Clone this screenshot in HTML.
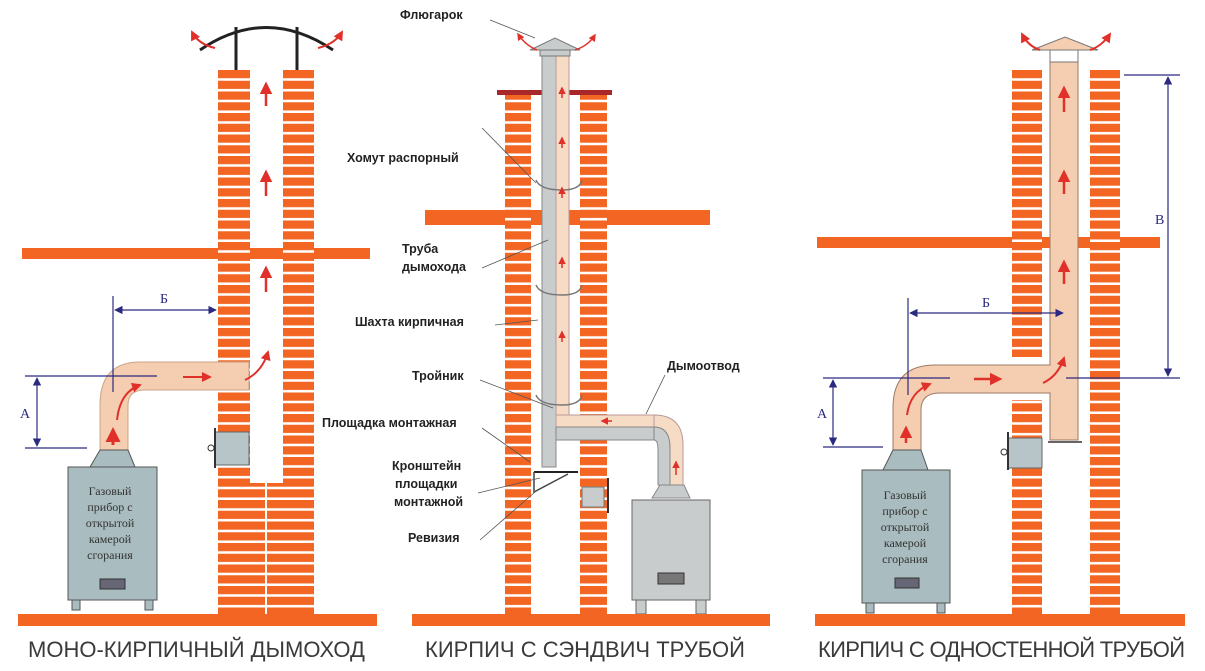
<!DOCTYPE html>
<html><head><meta charset="utf-8"><style>
html,body{margin:0;padding:0;background:#fff;}
svg{display:block}
.lbl{font-family:"Liberation Sans","DejaVu Sans",sans-serif;font-weight:bold;font-size:12.5px;fill:#222}
.ttl{font-family:"Liberation Sans","DejaVu Sans",sans-serif;font-size:22px;fill:#3a3a3a}
.box{font-family:"Liberation Serif","DejaVu Serif",serif;font-size:12px;fill:#333}
.dim{stroke:#2a2a80;stroke-width:1.2;fill:none}
.dl{font-family:"Liberation Serif",serif;font-size:14px;fill:#2a2a80}
</style></head><body>
<svg width="1205" height="671" viewBox="0 0 1205 671" xmlns="http://www.w3.org/2000/svg">
<defs>
<pattern id="br" patternUnits="userSpaceOnUse" x="0" y="70" width="200" height="10.75">
<rect width="200" height="10.75" fill="#f26522"/><rect y="8.2" width="200" height="2.55" fill="#fff"/>
</pattern>
<marker id="ar" viewBox="0 0 10 10" refX="9" refY="5" markerWidth="7" markerHeight="7" orient="auto-start-reverse"><path d="M0,0 L10,5 L0,10 z" fill="#2a2a80"/></marker>
<marker id="ra" viewBox="0 0 10 10" refX="8" refY="5" markerWidth="5" markerHeight="5" orient="auto"><path d="M0,0 L10,5 L0,10 z" fill="#e0302a"/></marker>
</defs>
<rect width="1205" height="671" fill="#fff"/>

<!-- ===== LEFT PANEL ===== -->
<rect x="22" y="248" width="348" height="11" fill="#f26522"/>
<rect x="218" y="70" width="32" height="544" fill="url(#br)"/>
<rect x="283" y="70" width="31" height="544" fill="url(#br)"/>
<rect x="250" y="483" width="33" height="131" fill="url(#br)"/>
<line x1="266" y1="483" x2="266" y2="614" stroke="#fff" stroke-width="2"/>
<!-- cap -->
<path d="M200,50 Q266,5 333,50" stroke="#222" stroke-width="3" fill="none"/>
<line x1="236" y1="27" x2="236" y2="70" stroke="#222" stroke-width="3"/>
<line x1="297" y1="27" x2="297" y2="70" stroke="#222" stroke-width="3"/>
<path d="M215,48 Q198,44 192,32" stroke="#e0302a" stroke-width="2" fill="none" marker-end="url(#ra)"/>
<path d="M318,48 Q335,44 342,32" stroke="#e0302a" stroke-width="2" fill="none" marker-end="url(#ra)"/>
<!-- flue arrows -->
<g stroke="#e0302a" stroke-width="2.5" marker-end="url(#ra)">
<line x1="266" y1="106" x2="266" y2="84"/><line x1="266" y1="196" x2="266" y2="172"/><line x1="266" y1="292" x2="266" y2="268"/>
</g>
<!-- pipe -->
<path d="M100,450 L100,405 Q100,362 140,362 L249,362 L249,390 L145,390 Q128,390 128,405 L128,450 Z" fill="#f5cdb0" stroke="#c9a488" stroke-width="1"/>
<path d="M117,420 Q120,392 140,385" stroke="#e0302a" stroke-width="2" fill="none" marker-end="url(#ra)"/>
<line x1="113" y1="445" x2="113" y2="430" stroke="#e0302a" stroke-width="3" marker-end="url(#ra)"/>
<line x1="183" y1="377" x2="210" y2="377" stroke="#e0302a" stroke-width="2" marker-end="url(#ra)"/>
<path d="M245,380 Q262,372 268,352" stroke="#e0302a" stroke-width="2" fill="none" marker-end="url(#ra)"/>
<!-- cleanout -->
<rect x="215" y="432" width="34" height="33" fill="#b7c5c8" stroke="#666"/>
<line x1="215" y1="428" x2="215" y2="468" stroke="#333" stroke-width="2"/>
<circle cx="211" cy="448" r="3" fill="#fff" stroke="#333"/>
<!-- boiler -->
<path d="M90,467 L100,450 L128,450 L135,467 Z" fill="#a9bcbf" stroke="#555"/>
<rect x="68" y="467" width="89" height="133" fill="#a9bcbf" stroke="#555"/>
<rect x="72" y="600" width="8" height="10" fill="#a9bcbf" stroke="#555"/><rect x="145" y="600" width="8" height="10" fill="#a9bcbf" stroke="#555"/>
<g class="box" text-anchor="middle"><text x="110" y="495">Газовый</text><text x="110" y="511">прибор с</text><text x="110" y="527">открытой</text><text x="110" y="543">камерой</text><text x="110" y="559">сгорания</text></g>
<rect x="100" y="579" width="25" height="10" fill="#667" stroke="#333"/>
<!-- dims -->
<line class="dim" x1="25" y1="376" x2="157" y2="376"/><line class="dim" x1="25" y1="448" x2="87" y2="448"/>
<line class="dim" x1="37" y1="378" x2="37" y2="446" marker-start="url(#ar)" marker-end="url(#ar)"/>
<text class="dl" x="20" y="418">А</text>
<line class="dim" x1="113" y1="296" x2="113" y2="392"/>
<line class="dim" x1="115" y1="310" x2="216" y2="310" marker-start="url(#ar)" marker-end="url(#ar)"/>
<text class="dl" x="160" y="303">Б</text>
<rect x="18" y="614" width="359" height="12" fill="#f26522"/>
<text class="ttl" x="28" y="657">МОНО-КИРПИЧНЫЙ ДЫМОХОД</text>

<!-- ===== MIDDLE PANEL ===== -->
<rect x="425" y="210" width="285" height="15" fill="#f26522"/>
<rect x="505" y="95" width="26" height="519" fill="url(#br)"/>
<rect x="580" y="95" width="27" height="519" fill="url(#br)"/>
<rect x="497" y="90" width="115" height="5" fill="#a8282a"/>
<!-- pipe -->
<rect x="542" y="55" width="14" height="412" fill="#c9cccd" stroke="#888"/>
<rect x="556" y="55" width="13" height="360" fill="#f6dcc4" stroke="#b99"/>
<rect x="556" y="415" width="98" height="12" fill="#f6dcc4" stroke="#b99"/>
<rect x="556" y="427" width="98" height="13" fill="#c9cccd" stroke="#888"/>
<path d="M654,415 Q683,415 683,445 L683,485 L670,485 L670,448 Q670,427 654,427Z" fill="#f6dcc4" stroke="#b99"/>
<path d="M654,427 L654,440 Q658,440 658,450 L658,485 L670,485 L670,448 Q670,427 654,427Z" fill="#c9cccd" stroke="#888"/>
<path d="M652,498 L660,485 L684,485 L690,498Z" fill="#c9cccd" stroke="#888"/>
<g stroke="#777" stroke-width="1.5" fill="none">
<path d="M536,180 Q540,190 562,190 Q580,190 582,180"/><path d="M536,285 Q540,295 562,295 Q580,295 582,285"/><path d="M536,395 Q540,405 562,405 Q580,405 582,395"/>
</g>
<!-- cap -->
<path d="M530,50 L555,38 L580,50Z" fill="#c9cccd" stroke="#777"/>
<rect x="540" y="50" width="30" height="6" fill="#c9cccd" stroke="#777"/>
<path d="M537,50 Q525,45 518,34" stroke="#e0302a" stroke-width="1.5" fill="none" marker-end="url(#ra)"/>
<path d="M575,50 Q588,46 595,35" stroke="#e0302a" stroke-width="1.5" fill="none" marker-end="url(#ra)"/>
<g stroke="#e0302a" stroke-width="1.5" marker-end="url(#ra)">
<line x1="562" y1="98" x2="562" y2="88"/><line x1="562" y1="148" x2="562" y2="138"/><line x1="562" y1="198" x2="562" y2="188"/><line x1="562" y1="268" x2="562" y2="258"/><line x1="562" y1="342" x2="562" y2="332"/><line x1="612" y1="421" x2="602" y2="421"/><line x1="676" y1="475" x2="676" y2="462"/>
</g>
<!-- platform & bracket -->
<line x1="534" y1="472" x2="578" y2="472" stroke="#222" stroke-width="2"/>
<path d="M534,472 L534,492 L568,474" stroke="#444" stroke-width="1.5" fill="none"/>
<rect x="582" y="487" width="22" height="20" fill="#c9cccd" stroke="#777"/>
<line x1="608" y1="478" x2="608" y2="513" stroke="#333" stroke-width="2"/>
<!-- boiler -->
<rect x="632" y="500" width="78" height="100" fill="#c9cccd" stroke="#666"/>
<rect x="636" y="600" width="10" height="14" fill="#c9cccd" stroke="#666"/><rect x="696" y="600" width="10" height="14" fill="#c9cccd" stroke="#666"/>
<rect x="658" y="573" width="26" height="11" fill="#777" stroke="#333"/>
<!-- leaders -->
<g stroke="#555" stroke-width="0.8">
<line x1="490" y1="20" x2="535" y2="38"/><line x1="482" y1="128" x2="536" y2="183"/><line x1="482" y1="268" x2="548" y2="240"/>
<line x1="495" y1="325" x2="538" y2="320"/><line x1="480" y1="380" x2="553" y2="408"/><line x1="482" y1="428" x2="530" y2="462"/>
<line x1="478" y1="493" x2="540" y2="478"/><line x1="480" y1="540" x2="535" y2="492"/><line x1="665" y1="375" x2="646" y2="414"/>
</g>
<g class="lbl">
<text x="400" y="19">Флюгарок</text><text x="347" y="162">Хомут распорный</text>
<text x="402" y="253">Труба</text><text x="402" y="271">дымохода</text>
<text x="355" y="326">Шахта кирпичная</text><text x="412" y="380">Тройник</text>
<text x="322" y="427">Площадка монтажная</text>
<text x="392" y="470">Кронштейн</text><text x="395" y="488">площадки</text><text x="394" y="506">монтажной</text>
<text x="408" y="542">Ревизия</text><text x="667" y="370">Дымоотвод</text>
</g>
<rect x="412" y="614" width="358" height="12" fill="#f26522"/>
<text class="ttl" x="425" y="657">КИРПИЧ С СЭНДВИЧ ТРУБОЙ</text>

<!-- ===== RIGHT PANEL ===== -->
<rect x="817" y="237" width="343" height="11" fill="#f26522"/>
<rect x="1012" y="70" width="30" height="287" fill="url(#br)"/>
<rect x="1012" y="400" width="30" height="214" fill="url(#br)"/>
<rect x="1090" y="70" width="30" height="544" fill="url(#br)"/>
<!-- pipe -->
<path d="M893,450 L893,408 Q893,365 935,365 L1050,365 L1050,62 L1078,62 L1078,440 L1050,440 L1050,393 L940,393 Q921,393 921,410 L921,450Z" fill="#f5cdb0" stroke="#9b7a66" stroke-width="1"/>
<path d="M1032,50 L1065,37 L1098,50Z" fill="#f5cdb0" stroke="#777"/>
<rect x="1050" y="50" width="28" height="12" fill="#fff" stroke="#777"/>
<path d="M1040,50 Q1028,46 1022,34" stroke="#e0302a" stroke-width="2" fill="none" marker-end="url(#ra)"/>
<path d="M1090,50 Q1102,46 1110,34" stroke="#e0302a" stroke-width="2" fill="none" marker-end="url(#ra)"/>
<line x1="1048" y1="442" x2="1082" y2="442" stroke="#333" stroke-width="1.5"/>
<g stroke="#e0302a" stroke-width="2.5" marker-end="url(#ra)">
<line x1="1064" y1="112" x2="1064" y2="88"/><line x1="1064" y1="194" x2="1064" y2="172"/><line x1="1064" y1="284" x2="1064" y2="262"/>
<line x1="906" y1="443" x2="906" y2="428"/><line x1="974" y1="379" x2="1000" y2="379"/>
</g>
<path d="M907,415 Q910,392 930,384" stroke="#e0302a" stroke-width="2" fill="none" marker-end="url(#ra)"/>
<path d="M1043,383 Q1058,376 1064,358" stroke="#e0302a" stroke-width="2" fill="none" marker-end="url(#ra)"/>
<!-- cleanout -->
<rect x="1008" y="438" width="34" height="30" fill="#b7c5c8" stroke="#666"/>
<line x1="1008" y1="432" x2="1008" y2="470" stroke="#333" stroke-width="2"/>
<circle cx="1004" cy="452" r="3" fill="#fff" stroke="#333"/>
<!-- boiler -->
<path d="M883,470 L893,450 L921,450 L928,470Z" fill="#a9bcbf" stroke="#555"/>
<rect x="862" y="470" width="88" height="133" fill="#a9bcbf" stroke="#555"/>
<rect x="866" y="603" width="8" height="10" fill="#a9bcbf" stroke="#555"/><rect x="937" y="603" width="8" height="10" fill="#a9bcbf" stroke="#555"/>
<g class="box" text-anchor="middle"><text x="905" y="499">Газовый</text><text x="905" y="515">прибор с</text><text x="905" y="531">открытой</text><text x="905" y="547">камерой</text><text x="905" y="563">сгорания</text></g>
<rect x="895" y="578" width="24" height="10" fill="#667" stroke="#333"/>
<!-- dims -->
<line class="dim" x1="823" y1="378" x2="950" y2="378"/><line class="dim" x1="823" y1="447" x2="883" y2="447"/>
<line class="dim" x1="833" y1="380" x2="833" y2="445" marker-start="url(#ar)" marker-end="url(#ar)"/>
<text class="dl" x="817" y="418">А</text>
<line class="dim" x1="908" y1="298" x2="908" y2="395"/>
<line class="dim" x1="910" y1="313" x2="1063" y2="313" marker-start="url(#ar)" marker-end="url(#ar)"/>
<text class="dl" x="982" y="307">Б</text>
<line class="dim" x1="1124" y1="75" x2="1180" y2="75"/><line class="dim" x1="1066" y1="378" x2="1180" y2="378"/>
<line class="dim" x1="1168" y1="77" x2="1168" y2="376" marker-start="url(#ar)" marker-end="url(#ar)"/>
<text class="dl" x="1155" y="224">В</text>
<rect x="815" y="614" width="370" height="12" fill="#f26522"/>
<text class="ttl" x="818" y="657" textLength="367">КИРПИЧ С ОДНОСТЕННОЙ ТРУБОЙ</text>
</svg>
</body></html>
